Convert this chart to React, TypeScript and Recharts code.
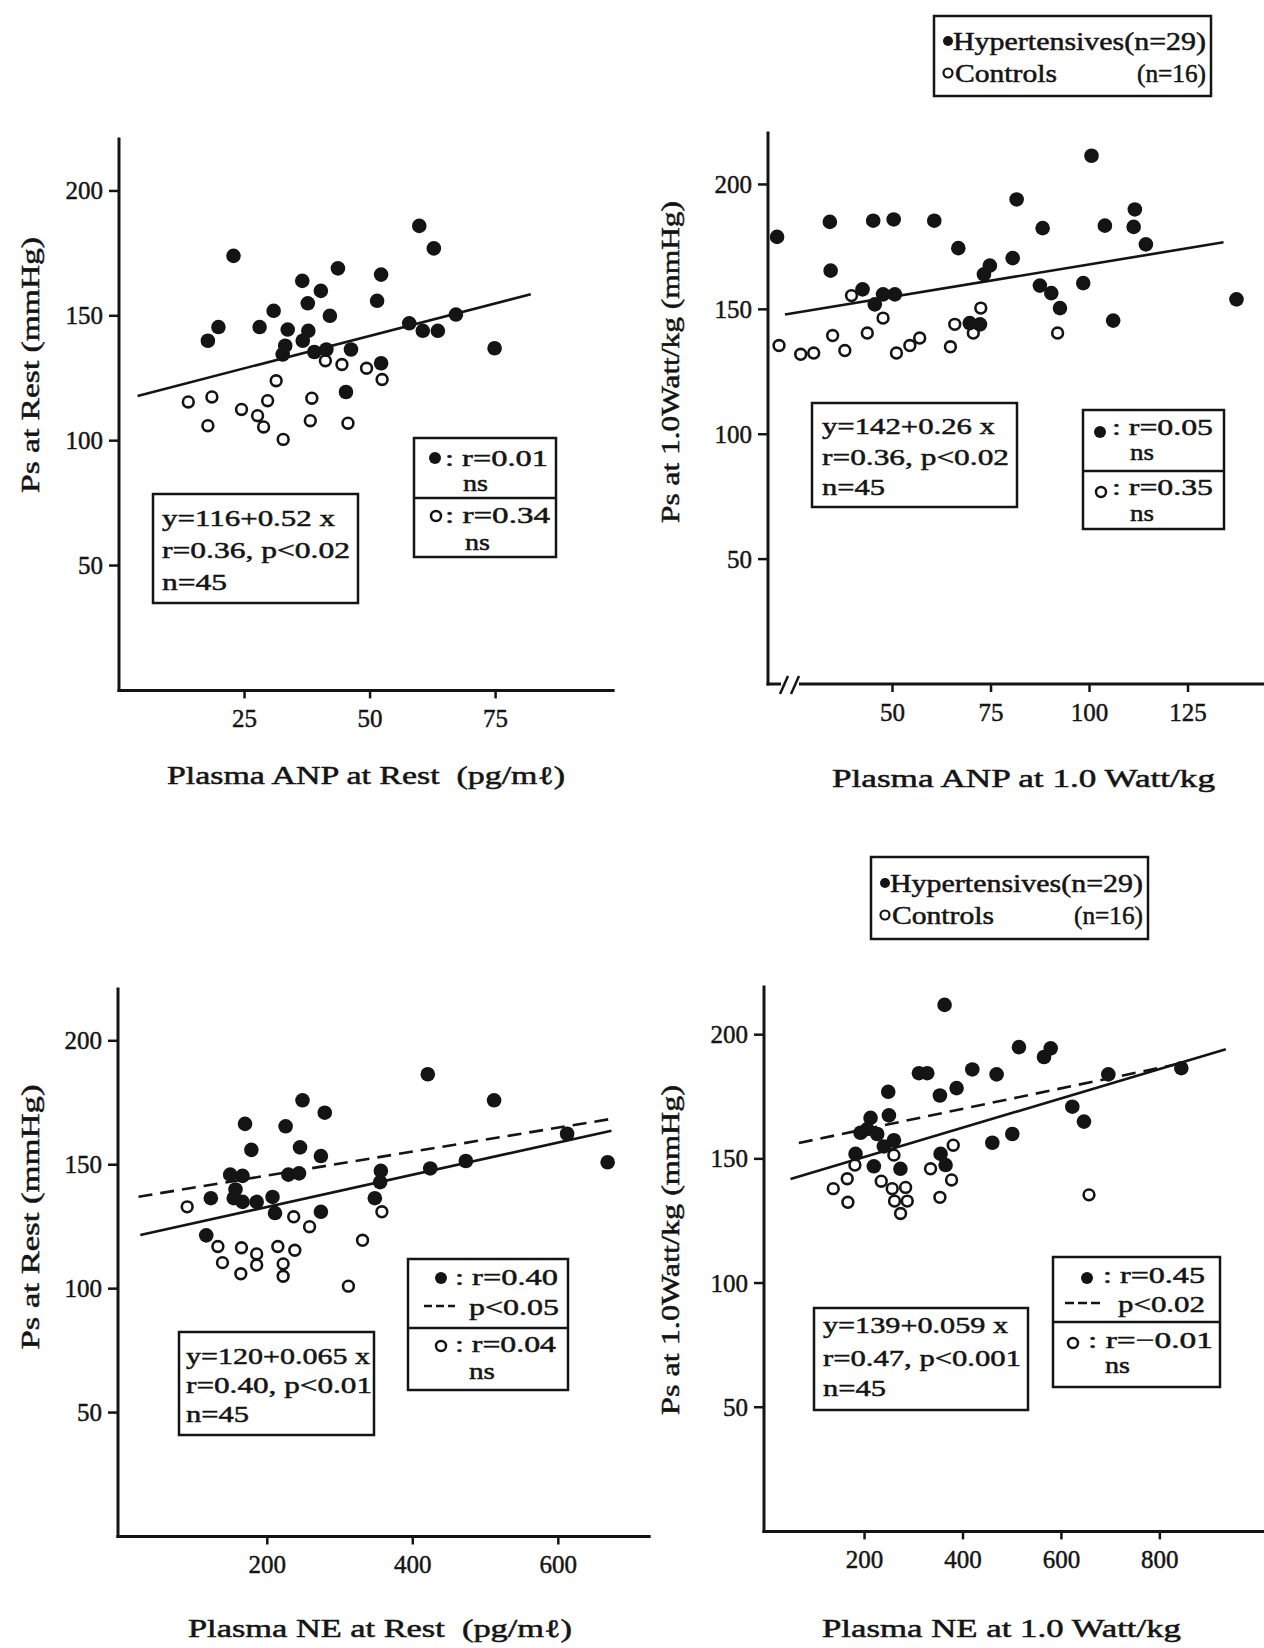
import React from 'react'
import { ScatterChart, Scatter, XAxis, YAxis } from 'recharts'

type Pt = { x: number; y: number }

const pts = (rows: number[][]): Pt[] => rows.map(([x, y]) => ({ x, y }))

// Plasma ANP at rest (pg/ml) vs Ps at rest (mmHg)
const anpRestHyper = pts([
  [22.8, 174], [59.8, 186], [62.7, 177], [43.6, 169], [36.5, 164], [40.2, 160],
  [52.2, 166.5], [51.4, 156], [37.6, 155], [30.8, 152], [42.0, 150], [19.8, 145.5],
  [17.7, 140], [28.0, 145.5], [33.6, 144.5], [37.7, 144], [36.6, 140], [33.1, 138],
  [32.6, 134.5], [38.9, 135.5], [41.3, 136.5], [46.2, 136.5], [52.2, 131], [45.2, 119.5],
  [67.1, 150.5], [57.8, 147], [60.5, 144], [63.5, 144], [74.8, 137],
])
const anpRestCtrl = pts([
  [13.8, 115.5], [18.5, 117.5], [17.7, 106], [24.4, 112.5], [27.6, 110], [29.6, 116],
  [28.8, 105.5], [31.3, 124], [32.7, 100.5], [38.4, 117], [38.1, 108], [41.1, 132],
  [44.4, 130.5], [45.6, 107], [49.3, 129], [52.4, 124.5],
])
const anpRestFit = [116, 0.52]
const anpRestSpan = [3.7, 82]

// Plasma ANP at 1.0 Watt/kg vs Ps at 1.0 Watt/kg
const anpExHyper = pts([
  [20.7, 179], [34.1, 185], [34.3, 165.5], [45.1, 185.5], [50.3, 186], [60.6, 185.5],
  [66.7, 174.5], [81.5, 194], [88.1, 182.5], [100.5, 211.5], [103.9, 183.5], [111.5, 190],
  [111.2, 183], [114.3, 176], [137.3, 154], [106.0, 145.5], [98.4, 160.5], [80.5, 170.5],
  [74.7, 167.5], [73.2, 164], [87.4, 159.5], [90.3, 156.5], [92.5, 150.5], [42.4, 158],
  [45.5, 152], [47.6, 156], [50.6, 156], [69.6, 144.5], [72.2, 144],
])
const anpExCtrl = pts([
  [21.2, 135.5], [26.7, 132], [30.0, 132.5], [34.8, 139.5], [37.9, 133.5], [39.6, 155.5],
  [43.6, 140.5], [47.6, 146.5], [51.0, 132.5], [54.4, 135.5], [56.9, 138.5], [64.7, 135],
  [65.8, 144], [70.5, 140.5], [72.4, 150.5], [91.9, 140.5],
])
const anpExFit = [142, 0.26]
const anpExSpan = [22.7, 134]

// Plasma NE at rest vs Ps at rest
const neRestHyper = pts([
  [420.6, 186.5], [511.7, 176], [248.4, 176], [279.0, 171], [169.4, 166.5], [225.2, 165.5],
  [178.1, 156], [245.0, 157], [273.7, 153.5], [612.1, 162.5], [667.8, 151], [424.0, 148.5],
  [472.9, 151.5], [356.1, 147.5], [355.1, 143], [149.0, 146], [166.0, 145.5], [229.0, 146],
  [243.6, 146.5], [156.3, 140], [153.9, 136.5], [166.0, 135], [185.4, 135], [207.2, 137],
  [122.4, 136.5], [210.6, 130.5], [273.7, 131], [347.8, 136.5], [116.1, 121.5],
])
const neRestCtrl = pts([
  [89.9, 133], [236.3, 129], [258.1, 125], [357.5, 131], [330.9, 119.5], [311.5, 101],
  [132.1, 117], [138.4, 110.5], [164.5, 116.5], [163.6, 106], [185.4, 114], [185.4, 109.5],
  [214.5, 117], [221.8, 110], [221.8, 105], [237.8, 115.5],
])
const neRestFit = [120, 0.065]
const neRestSpan = [25.5, 673]
const neRestHyperLine = pts([[23, 137.1], [675, 168.6]])

// Plasma NE at 1.0 Watt/kg vs Ps at 1.0 Watt/kg
const neExHyper = pts([
  [362.6, 212], [513.7, 195], [578.2, 194.5], [564.6, 191], [310.5, 184.5], [327.4, 184.5],
  [418.9, 186], [468.3, 184], [695.3, 184], [843.6, 186.5], [387.0, 178.5], [353.1, 175.5],
  [248.1, 177], [249.5, 167.5], [622.1, 171], [645.8, 165], [212.2, 166.5], [191.9, 160.5],
  [225.7, 160], [259.6, 157.5], [500.2, 160], [459.6, 156.5], [181.7, 152], [354.5, 152],
  [218.9, 147], [272.9, 146], [364.7, 147.5], [239.3, 155], [205.5, 162],
])
const neExCtrl = pts([
  [136.4, 138], [166.1, 132.5], [164.8, 142], [180.4, 147.5], [233.9, 141], [259.6, 151.5],
  [256.2, 138], [260.9, 133], [283.4, 138.5], [286.8, 133], [273.2, 128], [334.1, 146],
  [353.1, 134.5], [376.8, 141.5], [380.2, 155.5], [656.0, 135.5],
])
const neExFit = [139, 0.059]
const neExSpan = [49.6, 934]
const neExHyperLine = pts([[66.5, 156.4], [849, 188.7]])

const yTicks = [50, 100, 150, 200]
const anpRestTicks = [25, 50, 75]
const anpExTicks = [50, 75, 100, 125]
const neRestTicks = [200, 400, 600]
const neExTicks = [200, 400, 600, 800]

const fitLine = ([a, b]: number[], span: number[]): Pt[] => span.map((x) => ({ x, y: a + b * x }))

const ink = '#141414'
const serif = '"Liberation Serif", "DejaVu Serif", serif'
const YW = 90
const MT = 10
const MR = 10
const XH = 60

const axisStroke = { stroke: ink, strokeWidth: 3, strokeLinecap: 'square' as const }
const tickStroke = { stroke: ink, strokeWidth: 2.5 }

// tick labels drawn as plain serif text so the font is not overridden
const xTick = (p: any) => (
  <text x={p.x} y={p.y} dy={19} textAnchor="middle" fontSize={25} fontFamily={serif} fill={ink} stroke={ink} strokeWidth={0.45}>
    {p.payload.value}
  </text>
)
const yTick = (p: any) => (
  <text x={p.x} y={p.y} dy={8.5} textAnchor="end" fontSize={25} fontFamily={serif} fill={ink} stroke={ink} strokeWidth={0.45}>
    {p.payload.value}
  </text>
)

const filledDot = (p: any) => <circle cx={p.cx} cy={p.cy} r={7.3} fill={ink} />
const openDot = (p: any) => <circle cx={p.cx} cy={p.cy} r={5.4} fill="#fff" stroke={ink} strokeWidth={2.6} />
const noDot = () => <g />

type PanelProps = {
  left: number
  top: number
  right: number
  bottom: number
  xDomain: [number, number]
  yMax: number
  xTicks: number[]
  hyper: Pt[]
  ctrl: Pt[]
  fit: Pt[]
  hyperFit?: Pt[]
}

function Panel(p: PanelProps) {
  const width = p.right - p.left + YW + MR
  const height = p.bottom - p.top + MT + XH
  return (
    <div style={{ position: 'absolute', left: p.left - YW, top: p.top - MT }}>
      <ScatterChart width={width} height={height} margin={{ top: MT, right: MR, bottom: 0, left: 0 }}>
        <XAxis
          type="number"
          dataKey="x"
          domain={p.xDomain}
          ticks={p.xTicks}
          interval={0}
          allowDataOverflow
          height={XH}
          axisLine={axisStroke}
          tickLine={tickStroke}
          tickSize={8}
          tickMargin={10}
          tick={xTick}
        />
        <YAxis
          type="number"
          dataKey="y"
          domain={[0, p.yMax]}
          ticks={yTicks}
          interval={0}
          allowDataOverflow
          width={YW}
          axisLine={axisStroke}
          tickLine={tickStroke}
          tickSize={10}
          tickMargin={6}
          tick={yTick}
        />
        {p.hyperFit && (
          <Scatter
            data={p.hyperFit}
            line={{ stroke: ink, strokeWidth: 2.6, strokeDasharray: '14 8' }}
            shape={noDot}
            isAnimationActive={false}
          />
        )}
        <Scatter data={p.fit} line={{ stroke: ink, strokeWidth: 2.6 }} shape={noDot} isAnimationActive={false} />
        <Scatter data={p.ctrl} shape={openDot} isAnimationActive={false} />
        <Scatter data={p.hyper} shape={filledDot} isAnimationActive={false} />
      </ScatterChart>
    </div>
  )
}

function Txt({ x, y, w, size = 24, children }: { x: number; y: number; w: number; size?: number; children: React.ReactNode }) {
  return (
    <text
      x={x}
      y={y}
      textLength={w}
      lengthAdjust="spacingAndGlyphs"
      fontSize={size}
      fontFamily={serif}
      fill={ink}
      stroke={ink}
      strokeWidth={0.5}
    >
      {children}
    </text>
  )
}

function VTxt({ cx, cy, len, children }: { cx: number; cy: number; len: number; children: React.ReactNode }) {
  return (
    <text
      x={cx}
      y={cy}
      transform={`rotate(-90 ${cx} ${cy})`}
      textAnchor="middle"
      dominantBaseline="central"
      textLength={len}
      lengthAdjust="spacingAndGlyphs"
      fontSize={25}
      fontFamily={serif}
      fill={ink}
      stroke={ink}
      strokeWidth={0.5}
    >
      {children}
    </text>
  )
}

const Box = ({ x, y, w, h }: { x: number; y: number; w: number; h: number }) => (
  <rect x={x} y={y} width={w} height={h} fill="#fff" stroke={ink} strokeWidth={2.5} />
)
const Dot = ({ x, y }: { x: number; y: number }) => <circle cx={x} cy={y} r={6} fill={ink} />
const Ring = ({ x, y }: { x: number; y: number }) => (
  <circle cx={x} cy={y} r={5} fill="none" stroke={ink} strokeWidth={2.5} />
)

function Legend({ x, y, h }: { x: number; y: number; h: number }) {
  const mid = y + h / 2
  return (
    <g>
      <Box x={x} y={y} w={277} h={h} />
      <circle cx={x + 14} cy={mid - 15} r={5} fill={ink} />
      <Txt x={x + 19} y={mid - 6} w={253} size={25}>Hypertensives(n=29)</Txt>
      <circle cx={x + 14} cy={mid + 17} r={4.5} fill="none" stroke={ink} strokeWidth={2.2} />
      <Txt x={x + 21} y={mid + 26} w={102} size={25}>Controls</Txt>
      <Txt x={x + 203} y={mid + 26} w={69} size={25}>(n=16)</Txt>
    </g>
  )
}

function Annotations() {
  return (
    <svg width={1264} height={1648} style={{ position: 'absolute', left: 0, top: 0, pointerEvents: 'none' }}>
      {/* axis titles */}
      <VTxt cx={30} cy={365} len={256}>Ps at Rest (mmHg)</VTxt>
      <VTxt cx={670} cy={362} len={322}>Ps at 1.0Watt/kg (mmHg)</VTxt>
      <VTxt cx={30} cy={1217} len={265}>Ps at Rest (mmHg)</VTxt>
      <VTxt cx={670} cy={1250} len={330}>Ps at 1.0Watt/kg (mmHg)</VTxt>
      <Txt x={167} y={784} w={398} size={25}>Plasma ANP at Rest{'\u00a0 '}(pg/mℓ)</Txt>
      <Txt x={832} y={787} w={383} size={25}>Plasma ANP at 1.0 Watt/kg</Txt>
      <Txt x={188} y={1637} w={384} size={25}>Plasma NE at Rest{'\u00a0 '}(pg/mℓ)</Txt>
      <Txt x={822} y={1637} w={359} size={25}>Plasma NE at 1.0 Watt/kg</Txt>

      {/* broken x axis, ANP at 1.0 Watt/kg */}
      <rect x={781} y={677} width={18} height={14} fill="#fff" />
      <line x1={780} y1={694} x2={788} y2={676} stroke={ink} strokeWidth={2.5} />
      <line x1={791} y1={694} x2={799} y2={676} stroke={ink} strokeWidth={2.5} />

      {/* group legends */}
      <Legend x={934} y={16} h={80} />
      <Legend x={871} y={857} h={82} />

      {/* ANP at rest */}
      <Box x={153} y={494} w={205} h={109} />
      <Txt x={162} y={526} w={173}>y=116+0.52 x</Txt>
      <Txt x={162} y={558} w={188}>r=0.36, p&lt;0.02</Txt>
      <Txt x={162} y={590} w={65}>n=45</Txt>
      <Box x={414} y={438} w={142} h={119} />
      <line x1={414} y1={498} x2={556} y2={498} stroke={ink} strokeWidth={2.5} />
      <Dot x={435} y={458} />
      <Txt x={445} y={466} w={103}>: r=0.01</Txt>
      <Txt x={463} y={491} w={25}>ns</Txt>
      <Ring x={436} y={516} />
      <Txt x={445} y={523} w={105}>: r=0.34</Txt>
      <Txt x={465} y={550} w={25}>ns</Txt>

      {/* ANP at 1.0 Watt/kg */}
      <Box x={812} y={403} w={205} h={104} />
      <Txt x={822} y={434} w={173}>y=142+0.26 x</Txt>
      <Txt x={822} y={465} w={187}>r=0.36, p&lt;0.02</Txt>
      <Txt x={822} y={495} w={63}>n=45</Txt>
      <Box x={1083} y={410} w={141} h={119} />
      <line x1={1083} y1={471} x2={1224} y2={471} stroke={ink} strokeWidth={2.5} />
      <Dot x={1100} y={432} />
      <Txt x={1112} y={435} w={101}>: r=0.05</Txt>
      <Txt x={1130} y={460} w={24}>ns</Txt>
      <Ring x={1101} y={492} />
      <Txt x={1112} y={495} w={101}>: r=0.35</Txt>
      <Txt x={1130} y={521} w={24}>ns</Txt>

      {/* NE at rest */}
      <Box x={179} y={1332} w={195} h={103} />
      <Txt x={186} y={1364} w={184}>y=120+0.065 x</Txt>
      <Txt x={186} y={1393} w={186}>r=0.40, p&lt;0.01</Txt>
      <Txt x={186} y={1422} w={63}>n=45</Txt>
      <Box x={408} y={1259} w={160} h={131} />
      <line x1={408} y1={1328} x2={568} y2={1328} stroke={ink} strokeWidth={2.5} />
      <Dot x={441} y={1278} />
      <Txt x={455} y={1285} w={103}>: r=0.40</Txt>
      <line x1={424} y1={1306} x2={455} y2={1306} stroke={ink} strokeWidth={2.6} strokeDasharray="8 4" />
      <Txt x={469} y={1315} w={90}>p&lt;0.05</Txt>
      <Ring x={441} y={1346} />
      <Txt x={455} y={1352} w={101}>: r=0.04</Txt>
      <Txt x={469} y={1379} w={26}>ns</Txt>

      {/* NE at 1.0 Watt/kg */}
      <Box x={814} y={1308} w={214} h={102} />
      <Txt x={823} y={1333} w={185}>y=139+0.059 x</Txt>
      <Txt x={823} y={1366} w={198}>r=0.47, p&lt;0.001</Txt>
      <Txt x={823} y={1396} w={63}>n=45</Txt>
      <Box x={1053} y={1257} w={167} h={130} />
      <line x1={1053} y1={1322} x2={1220} y2={1322} stroke={ink} strokeWidth={2.5} />
      <Dot x={1087} y={1278} />
      <Txt x={1103} y={1283} w={102}>: r=0.45</Txt>
      <line x1={1065} y1={1303} x2={1103} y2={1303} stroke={ink} strokeWidth={2.6} strokeDasharray="9 4" />
      <Txt x={1118} y={1312} w={87}>p&lt;0.02</Txt>
      <Ring x={1073} y={1343} />
      <Txt x={1088} y={1348} w={125}>: r=−0.01</Txt>
      <Txt x={1105} y={1373} w={25}>ns</Txt>
    </svg>
  )
}

export default function App() {
  return (
    <div
      style={{
        position: 'absolute',
        left: 0,
        top: 0,
        width: 1264,
        height: 1648,
        overflow: 'hidden',
        background: '#fff',
      }}
    >
      <Panel
        left={118.5}
        top={139.2}
        right={612.6}
        bottom={690.6}
        xDomain={[0, 98.4]}
        yMax={220.8}
        xTicks={anpRestTicks}
        hyper={anpRestHyper}
        ctrl={anpRestCtrl}
        fit={fitLine(anpRestFit, anpRestSpan)}
      />
      <Panel
        left={768.3}
        top={133}
        right={1264}
        bottom={684}
        xDomain={[18.4, 144.2]}
        yMax={220.6}
        xTicks={anpExTicks}
        hyper={anpExHyper}
        ctrl={anpExCtrl}
        fit={fitLine(anpExFit, anpExSpan)}
      />
      <Panel
        left={117.8}
        top={989.3}
        right={649}
        bottom={1536.8}
        xDomain={[-5.2, 724.9]}
        yMax={220.9}
        xTicks={neRestTicks}
        hyper={neRestHyper}
        ctrl={neRestCtrl}
        fit={fitLine(neRestFit, neRestSpan)}
        hyperFit={neRestHyperLine}
      />
      <Panel
        left={763.5}
        top={986.8}
        right={1264}
        bottom={1531.2}
        xDomain={[-4.3, 1012.6]}
        yMax={219.2}
        xTicks={neExTicks}
        hyper={neExHyper}
        ctrl={neExCtrl}
        fit={fitLine(neExFit, neExSpan)}
        hyperFit={neExHyperLine}
      />
      <Annotations />
    </div>
  )
}
